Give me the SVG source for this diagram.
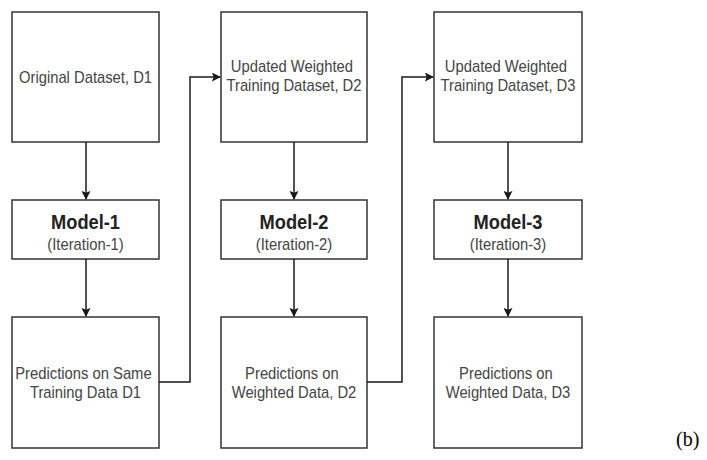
<svg xmlns="http://www.w3.org/2000/svg" width="707" height="460" viewBox="0 0 707 460">
  <style>
    .box { fill: #ffffff; stroke: #333333; stroke-width: 1.5; }
    .lbl { font-family: "Liberation Sans", Arial, sans-serif; font-size: 17px; fill: #444444; text-anchor: middle; }
    .title { font-family: "Liberation Sans", Arial, sans-serif; font-size: 21px; font-weight: bold; fill: #222222; text-anchor: middle; }
    .edge { fill: none; stroke: #1a1a1a; stroke-width: 1.5; }
    .tag { font-family: "Liberation Serif", "Times New Roman", serif; font-size: 20px; fill: #000000; }
  </style>
  <defs>
    <marker id="arrow" viewBox="0 0 10 10" refX="9" refY="5" markerWidth="9" markerHeight="9" markerUnits="userSpaceOnUse" orient="auto">
      <path d="M0,0 L10,5 L0,10 L2,5 Z" fill="#1a1a1a"/>
    </marker>
  </defs>
  <rect width="707" height="460" fill="#ffffff"/>

  <!-- column 1 (labels use a narrowed face: scale 0.87 horizontally) -->
  <g id="dataset-d1">
    <rect class="box" x="12" y="12" width="147" height="130"/>
    <text class="lbl" transform="translate(85.5 83) scale(0.87 1)">Original Dataset, D1</text>
  </g>
  <g id="model-1">
    <rect class="box" x="12" y="200" width="147" height="59"/>
    <text class="title" transform="translate(85.5 229) scale(0.87 1)">Model-1</text>
    <text class="lbl" transform="translate(85.5 249.5) scale(0.87 1)">(Iteration-1)</text>
  </g>
  <g id="predictions-d1">
    <rect class="box" x="12" y="317" width="147" height="131"/>
    <text class="lbl" transform="translate(85.5 379) scale(0.87 1)">
      <tspan x="0" y="0">Predictions on Same</tspan>
      <tspan x="0" y="19">Training Data D1</tspan>
    </text>
  </g>

  <!-- column 2 -->
  <g id="dataset-d2">
    <rect class="box" x="221" y="12" width="146" height="130"/>
    <text class="lbl" transform="translate(294 72) scale(0.87 1)">
      <tspan x="0" y="0">Updated Weighted</tspan>
      <tspan x="0" y="19">Training Dataset, D2</tspan>
    </text>
  </g>
  <g id="model-2">
    <rect class="box" x="221" y="200" width="146" height="59"/>
    <text class="title" transform="translate(294 229) scale(0.87 1)">Model-2</text>
    <text class="lbl" transform="translate(294 249.5) scale(0.87 1)">(Iteration-2)</text>
  </g>
  <g id="predictions-d2">
    <rect class="box" x="221" y="317" width="146" height="131"/>
    <text class="lbl" transform="translate(294 379) scale(0.87 1)">
      <tspan x="0" y="0">Predictions on</tspan>
      <tspan x="0" y="19">Weighted Data, D2</tspan>
    </text>
  </g>

  <!-- column 3 -->
  <g id="dataset-d3">
    <rect class="box" x="434" y="12" width="148" height="130"/>
    <text class="lbl" transform="translate(508 72) scale(0.87 1)">
      <tspan x="0" y="0">Updated Weighted</tspan>
      <tspan x="0" y="19">Training Dataset, D3</tspan>
    </text>
  </g>
  <g id="model-3">
    <rect class="box" x="434" y="200" width="148" height="59"/>
    <text class="title" transform="translate(508 229) scale(0.87 1)">Model-3</text>
    <text class="lbl" transform="translate(508 249.5) scale(0.87 1)">(Iteration-3)</text>
  </g>
  <g id="predictions-d3">
    <rect class="box" x="434" y="317" width="148" height="131"/>
    <text class="lbl" transform="translate(508 379) scale(0.87 1)">
      <tspan x="0" y="0">Predictions on</tspan>
      <tspan x="0" y="19">Weighted Data, D3</tspan>
    </text>
  </g>

  <!-- connectors -->
  <g id="connectors">
    <path class="edge" d="M86,142 V199" marker-end="url(#arrow)"/>
    <path class="edge" d="M86,259 V316" marker-end="url(#arrow)"/>
    <path class="edge" d="M159,382 H190 V77 H220" marker-end="url(#arrow)"/>
    <path class="edge" d="M294,142 V199" marker-end="url(#arrow)"/>
    <path class="edge" d="M294,259 V316" marker-end="url(#arrow)"/>
    <path class="edge" d="M367,382 H402 V77 H433" marker-end="url(#arrow)"/>
    <path class="edge" d="M508,142 V199" marker-end="url(#arrow)"/>
    <path class="edge" d="M508,259 V316" marker-end="url(#arrow)"/>
  </g>

  <text class="tag" x="676" y="446">(b)</text>
</svg>
